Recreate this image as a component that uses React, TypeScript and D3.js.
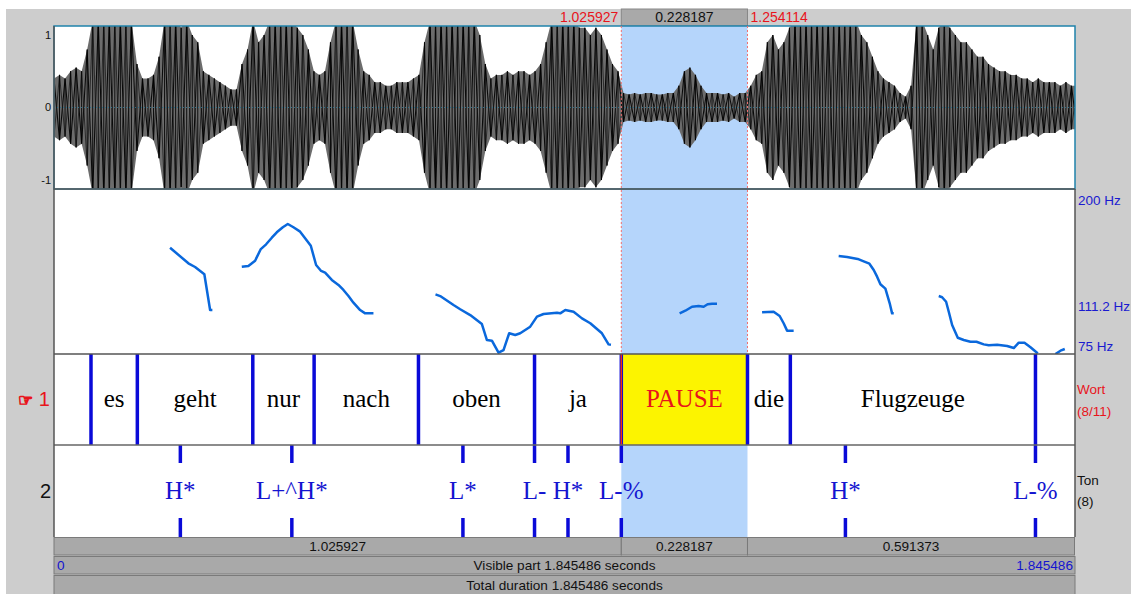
import * as d3 from 'd3';

// sound + annotation values
const totalDuration = 1.845486;
const selStart = 1.025927;
const selEnd = 1.254114;

// waveform amplitude envelope, one value every 10 ms (clipped above ~1.13)
const waveStep = 0.01;
const waveEnv = [
  0.4, 0.45, 0.4, 0.5, 0.55, 0.5, 0.8,
  1.2, 1.2, 1.2, 1.2, 1.2, 1.2, 1.2, 1.2,
  0.6, 0.4, 0.4, 0.45, 0.7,
  1.2, 1.2, 1.2, 1.1, 1.2, 1.0, 0.9,
  0.5, 0.45, 0.4, 0.35, 0.3, 0.25, 0.25,
  0.6, 0.8, 1.2, 0.9, 1.0, 1.2, 1.2, 1.2, 1.2, 1.2, 1.1, 1.0, 0.8,
  0.5, 0.45, 0.5,
  0.9, 1.2, 1.2, 1.2, 1.2, 0.8,
  0.5, 0.45, 0.35, 0.35, 0.3, 0.3, 0.35, 0.35, 0.35, 0.4, 0.45,
  0.9, 1.2, 1.2, 1.2, 1.2, 1.2, 1.2, 1.2, 1.2, 1.2, 1.0, 0.6,
  0.4, 0.45, 0.45, 0.5, 0.45, 0.5, 0.5, 0.45, 0.5, 0.6,
  0.9, 1.2, 1.2, 1.2, 1.2, 1.2, 1.1, 1.1, 1.0, 1.1, 1.0, 0.8, 0.6, 0.5,
  0.2, 0.18, 0.2, 0.18, 0.2, 0.2, 0.18, 0.18, 0.2, 0.2,
  0.3, 0.5, 0.55, 0.45, 0.3,
  0.2, 0.2, 0.2, 0.18, 0.2, 0.15, 0.2, 0.2,
  0.3, 0.45, 0.5,
  0.9, 1.0, 0.8, 0.9, 1.1, 1.2,
  1.2, 1.2, 1.2, 1.2, 1.2, 1.2, 1.2, 1.2, 1.2, 1.2, 1.2,
  1.0, 0.9, 0.7, 0.5, 0.4, 0.35, 0.3, 0.2, 0.15, 0.3,
  1.2, 1.2, 1.0, 0.8, 1.1, 1.2, 1.1, 1.0, 0.9, 0.9, 0.8,
  0.7, 0.7, 0.6, 0.55, 0.5, 0.5, 0.45, 0.45, 0.4, 0.4,
  0.35, 0.4, 0.35, 0.35, 0.35, 0.3, 0.35, 0.3, 0.3,
];
const waveTicks = [1, 0, -1];

// pitch contour pieces: [time s, Hz]
const pitchSeg1 = [
  [0.2099, 155.5], [0.243, 143.7], [0.2551, 140.9], [0.2719, 135.4],
  [0.2823, 108.3], [0.2864, 108.3],
];
const pitchSeg2 = [
  [0.3396, 141.1], [0.3515, 141.7], [0.3637, 145.7], [0.374, 154.5],
  [0.3836, 158.1], [0.3939, 163.1], [0.4029, 167.2], [0.4138, 171.0],
  [0.4228, 173.5], [0.433, 171.0], [0.4451, 167.7], [0.4541, 162.7],
  [0.4644, 157.0], [0.474, 142.4], [0.4831, 137.9], [0.4903, 136.6],
  [0.5024, 131.1], [0.5144, 127.3], [0.5234, 123.5], [0.5325, 118.9],
  [0.5415, 113.9], [0.5536, 108.3], [0.5627, 105.8], [0.5777, 105.8],
];
const pitchSeg3 = [
  [0.6899, 120.2], [0.6984, 118.9], [0.7225, 112.1], [0.7346, 108.9],
  [0.7527, 104.5], [0.7738, 97.7], [0.7829, 85.6], [0.7919, 85.1],
  [0.8039, 76.0], [0.8129, 78.0], [0.8232, 90.7], [0.8341, 89.4],
  [0.8431, 90.7], [0.8612, 95.7], [0.8734, 103.3], [0.8853, 105.3],
  [0.9095, 106.3], [0.9155, 105.8], [0.9246, 108.3], [0.9396, 107.0],
  [0.9548, 102.0], [0.9698, 98.3], [0.9909, 90.7], [1.0029, 82.3],
  [1.0072, 82.0],
];
const pitchSeg4 = [
  [1.1314, 105.8], [1.1417, 107.8], [1.1538, 110.8], [1.1657, 111.4],
  [1.1748, 110.8], [1.182, 112.7], [1.19, 113.1], [1.199, 113.1],
];
const pitchSeg5 = [
  [1.2805, 106.6], [1.3014, 107.0], [1.3123, 103.8], [1.3195, 98.3],
  [1.3257, 92.7], [1.3376, 92.7],
];
const pitchSeg6 = [
  [1.419, 149.2], [1.4342, 148.5], [1.4534, 147.0], [1.4643, 145.2],
  [1.4746, 143.4], [1.4824, 138.6], [1.4885, 133.6], [1.4945, 127.8],
  [1.5035, 124.5], [1.5113, 113.4], [1.5156, 105.8], [1.5186, 105.8],
];
const pitchSeg7 = [
  [1.6, 118.9], [1.6061, 118.0], [1.6133, 114.6], [1.6181, 107.0],
  [1.6242, 97.0], [1.6344, 87.3], [1.6452, 85.6], [1.6573, 84.3],
  [1.6682, 84.3], [1.6814, 82.3], [1.6904, 81.6], [1.7056, 82.0],
  [1.7237, 81.1], [1.7357, 79.5], [1.7447, 83.6], [1.755, 83.6],
  [1.7659, 80.1], [1.7767, 76.3], [1.7791, 75.5],
];
const pitchSeg8 = [[1.8111, 75.0], [1.8202, 77.5], [1.8279, 78.8]];
const pitchSegments = [pitchSeg1, pitchSeg2, pitchSeg3, pitchSeg4, pitchSeg5, pitchSeg6, pitchSeg7, pitchSeg8];
const pitchTicks = ['200 Hz', '111.2 Hz', '75 Hz'];
const pitchTickValues = [200, 111.2, 75];

// tier 1 (Wort): interval boundaries and labels
const wordBounds = [0.0669, 0.1507, 0.3595, 0.4704, 0.6591, 0.869, 1.025927, 1.254114, 1.3316, 1.7749];
const wordLabels = ['', 'es', 'geht', 'nur', 'nach', 'oben', 'ja', 'PAUSE', 'die', 'Flugzeuge', ''];
const selectedWord = 7;

// tier 2 (Ton): points
const tonePoints = [0.2285, 0.4301, 0.7395, 0.869, 0.9295, 1.025927, 1.4312, 1.7749];
const toneLabels = ['H*', 'L+^H*', 'L*', 'L-', 'H*', 'L-%', 'H*', 'L-%'];

// duration bar labels
const partLabels = ['1.025927', '0.228187', '0.591373'];

const sans = '"Liberation Sans", Arial, sans-serif';
const serif = '"Liberation Serif", "Times New Roman", serif';

export default function App() {
  const left = 54;
  const right = 1075;
  const waveTop = 26;
  const waveBot = 189;
  const pitchBot = 354;
  const tier1Bot = 445;
  const tier2Bot = 537;

  const x = d3.scaleLinear().domain([0, totalDuration]).range([left, right - 0.5]);
  const yWave = d3.scaleLinear().domain([-1, 1]).range([180, 35]);
  const yPitch = d3.scaleLinear().domain([75, 200]).range([pitchBot, waveBot]);

  const wavePts = waveEnv.map((a, i) => ({ t: i * waveStep, a }));
  const envArea = d3
    .area<{ t: number; a: number }>()
    .x((d) => x(d.t))
    .y0((d) => yWave(-d.a))
    .y1((d) => yWave(d.a));
  const zigA = d3
    .line<{ t: number; a: number }>()
    .x((d) => x(d.t))
    .y((d, i) => yWave(i % 2 ? -d.a : d.a));
  const zigB = d3
    .line<{ t: number; a: number }>()
    .x((d) => x(d.t))
    .y((d, i) => yWave(i % 2 ? d.a : -d.a));
  const pitchLine = d3
    .line<number[]>()
    .x((d) => x(d[0]))
    .y((d) => yPitch(d[1]));

  const sx0 = x(selStart);
  const sx1 = x(selEnd);
  const bounds = [0, ...wordBounds, totalDuration];
  const parts = [0, selStart, selEnd, totalDuration];

  const pitchBaseline = [16, 5, -3];

  return (
    <svg
      width={1131}
      height={594}
      style={{ position: 'absolute', left: 0, top: 0, background: '#fff' }}
    >
      <defs>
        <clipPath id='waveClip'>
          <rect x={left} y={waveTop} width={right - left} height={waveBot - waveTop} />
        </clipPath>
        <clipPath id='pitchClip'>
          <rect x={left} y={waveBot} width={right - left} height={pitchBot - waveBot} />
        </clipPath>
      </defs>

      {/* window background */}
      <rect x={6} y={9} width={1125} height={585} fill='#cdcdcd' />

      {/* top selection bar */}
      <rect x={sx0} y={9} width={sx1 - sx0} height={waveTop - 9} fill='#a9a9a9' stroke='#888' strokeWidth={1} />
      <text x={sx0 - 3} y={22} textAnchor='end' fontFamily={sans} fontSize={14} fill='#e8141c'>
        {selStart.toFixed(6)}
      </text>
      <text x={(sx0 + sx1) / 2} y={22} textAnchor='middle' fontFamily={sans} fontSize={14} fill='#111'>
        {partLabels[1]}
      </text>
      <text x={sx1 + 3} y={22} fontFamily={sans} fontSize={14} fill='#e8141c'>
        {selEnd.toFixed(6)}
      </text>

      {/* data panes */}
      <rect x={left} y={waveTop} width={right - left} height={tier2Bot - waveTop} fill='#fff' />
      <rect x={sx0} y={waveTop} width={sx1 - sx0} height={pitchBot - waveTop} fill='#b5d5fb' />
      <rect x={sx0} y={tier1Bot} width={sx1 - sx0} height={tier2Bot - tier1Bot} fill='#b5d5fb' />
      <rect x={sx0} y={pitchBot} width={sx1 - sx0} height={tier1Bot - pitchBot} fill='#fcf400' />

      {/* waveform */}
      <g clipPath='url(#waveClip)'>
        <path d={envArea(wavePts) || ''} fill='#6c6c6c' />
        <path d={zigA(wavePts) || ''} fill='none' stroke='#0a0a0a' strokeWidth={1.1} />
        <path d={zigB(wavePts) || ''} fill='none' stroke='#1a1a1a' strokeWidth={0.8} />
        {wavePts.map((d, i) => (
          <line key={i} x1={x(d.t)} x2={x(d.t)} y1={yWave(-d.a)} y2={yWave(d.a)} stroke='#000' strokeWidth={0.9} />
        ))}
        <line x1={left} x2={right} y1={yWave(0)} y2={yWave(0)} stroke='#2a6f8a' strokeWidth={1} strokeDasharray='1 2' />
      </g>
      <rect x={left} y={waveTop} width={right - left} height={waveBot - waveTop} fill='none' stroke='#1f82aa' strokeWidth={1.5} />
      {waveTicks.map((v) => (
        <text key={v} x={51} y={yWave(v)} dy='0.35em' textAnchor='end' fontFamily={sans} fontSize={11} fill='#111'>
          {v}
        </text>
      ))}

      {/* pitch */}
      <g clipPath='url(#pitchClip)'>
        {pitchSegments.map((seg, i) => (
          <path key={i} d={pitchLine(seg) || ''} fill='none' stroke='#0a68dc' strokeWidth={2.5} strokeLinejoin='round' />
        ))}
      </g>
      {pitchTicks.map((lab, i) => (
        <text key={lab} x={right + 3} y={yPitch(pitchTickValues[i]) + pitchBaseline[i]} fontFamily={sans} fontSize={13.5} fill='#1a1ad0'>
          {lab}
        </text>
      ))}

      {/* selection cursors */}
      {[sx0, sx1].map((v) => (
        <line key={v} x1={v} x2={v} y1={waveTop} y2={pitchBot} stroke='#f07070' strokeWidth={1} strokeDasharray='2 2' />
      ))}

      {/* tier 1 */}
      {wordLabels.map((lab, i) =>
        lab ? (
          <text
            key={i}
            x={(x(bounds[i]) + x(bounds[i + 1])) / 2}
            y={407}
            textAnchor='middle'
            fontFamily={serif}
            fontSize={25}
            fill={i === selectedWord ? '#e8141c' : '#000'}
          >
            {lab}
          </text>
        ) : null,
      )}
      {wordBounds.map((b) => (
        <line key={b} x1={x(b)} x2={x(b)} y1={pitchBot} y2={tier1Bot} stroke='#0a0ad8' strokeWidth={3.5} />
      ))}
      <line x1={sx0} x2={sx0} y1={pitchBot} y2={tier1Bot} stroke='#f03010' strokeWidth={1.5} />

      {/* tier 2 */}
      {tonePoints.map((p, i) => (
        <g key={i}>
          <line x1={x(p)} x2={x(p)} y1={tier1Bot} y2={463} stroke='#0a0ad8' strokeWidth={3.5} />
          <line x1={x(p)} x2={x(p)} y1={518} y2={tier2Bot} stroke='#0a0ad8' strokeWidth={3.5} />
          <text x={x(p)} y={499} textAnchor='middle' fontFamily={serif} fontSize={25} fill='#1414d0'>
            {toneLabels[i]}
          </text>
        </g>
      ))}

      {/* pane frames */}
      <line x1={left} x2={right} y1={pitchBot} y2={pitchBot} stroke='#555' strokeWidth={1.5} />
      <line x1={left} x2={right} y1={tier1Bot} y2={tier1Bot} stroke='#666' strokeWidth={1.5} />
      <line x1={left} x2={left} y1={waveTop} y2={tier2Bot} stroke='#555' strokeWidth={1.5} />
      <line x1={right} x2={right} y1={waveBot} y2={tier2Bot} stroke='#555' strokeWidth={1.5} />
      <line x1={left} x2={right} y1={waveBot} y2={waveBot} stroke='#555' strokeWidth={1.5} />

      {/* tier names */}
      <text x={50} y={406} textAnchor='end' fontFamily={sans} fontSize={20} fill='#e8141c'>
        <tspan fontFamily='"DejaVu Sans"' fontSize={17} stroke='#e8141c' strokeWidth={1.1}>☞</tspan> 1
      </text>
      <text x={51} y={498} textAnchor='end' fontFamily={sans} fontSize={20} fill='#111'>
        2
      </text>
      <text x={right + 2} y={394} fontFamily={sans} fontSize={13.5} fill='#e8141c'>Wort</text>
      <text x={right + 2} y={416} fontFamily={sans} fontSize={13.5} fill='#e8141c'>(8/11)</text>
      <text x={right + 2} y={485} fontFamily={sans} fontSize={13.5} fill='#111'>Ton</text>
      <text x={right + 2} y={506} fontFamily={sans} fontSize={13.5} fill='#111'>(8)</text>

      {/* bottom bars */}
      {partLabels.map((lab, i) => (
        <g key={i}>
          <rect x={x(parts[i])} y={537.5} width={x(parts[i + 1]) - x(parts[i])} height={17.5} fill='#a9a9a9' stroke='#7a7a7a' strokeWidth={1} />
          <text x={(x(parts[i]) + x(parts[i + 1])) / 2} y={551} textAnchor='middle' fontFamily={sans} fontSize={13.6} fill='#111'>
            {lab}
          </text>
        </g>
      ))}
      <rect x={left} y={556.5} width={right - left} height={17.5} fill='#a9a9a9' stroke='#7a7a7a' strokeWidth={1} />
      <text x={left + 3} y={570} fontFamily={sans} fontSize={13.6} fill='#1414d0'>0</text>
      <text x={(left + right) / 2} y={570} textAnchor='middle' fontFamily={sans} fontSize={13.6} fill='#111'>
        {`Visible part ${totalDuration.toFixed(6)} seconds`}
      </text>
      <text x={right - 2} y={570} textAnchor='end' fontFamily={sans} fontSize={13.6} fill='#1414d0'>
        {totalDuration.toFixed(6)}
      </text>
      <rect x={left} y={575.5} width={right - left} height={19} fill='#a9a9a9' stroke='#7a7a7a' strokeWidth={1} />
      <text x={(left + right) / 2} y={590} textAnchor='middle' fontFamily={sans} fontSize={13.6} fill='#111'>
        {`Total duration ${totalDuration.toFixed(6)} seconds`}
      </text>
    </svg>
  );
}
